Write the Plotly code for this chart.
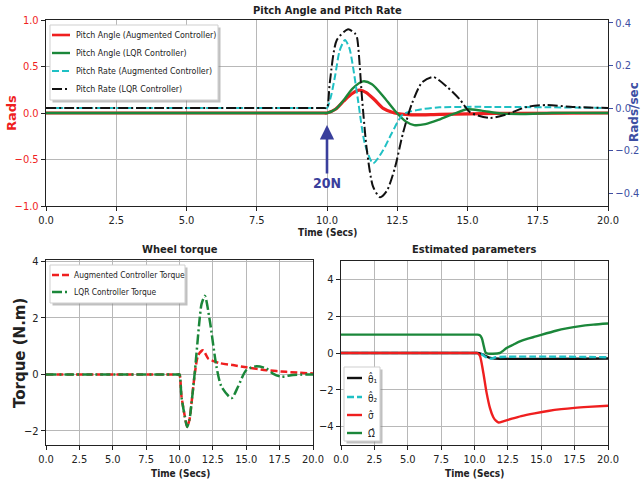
import plotly.graph_objects as go

# ---------------- data ----------------
# Top: pitch angle (rad, left axis)
t_pa_aug = [0, 9.9, 10.0, 10.3, 10.6, 10.9, 11.15, 11.4, 11.7, 12.0, 12.4, 13.0, 14.0, 16.0, 20]
v_pa_aug = [0, 0, 0, 0.04, 0.13, 0.21, 0.245, 0.22, 0.14, 0.05, 0.0, -0.02, -0.015, -0.005, 0]

t_pa_lqr = [0, 9.9, 10.0, 10.3, 10.6, 10.9, 11.28, 11.6, 12.0, 12.4, 12.8, 13.1, 13.5, 14.0, 14.5, 15.0, 15.5, 16.2, 17, 18, 20]
v_pa_lqr = [0, 0, 0, 0.04, 0.14, 0.26, 0.34, 0.31, 0.18, 0.03, -0.09, -0.13, -0.12, -0.07, -0.01, 0.04, 0.025, -0.005, -0.01, 0, 0]

# Top: pitch rate (rad/s, right axis)
t_pr_aug = [0, 9.9, 10.0, 10.15, 10.3, 10.45, 10.64, 10.8, 10.93, 11.1, 11.35, 11.64, 11.99, 12.3, 12.7, 13.2, 14.0, 20]
v_pr_aug = [0, 0, 0, 0.06, 0.16, 0.27, 0.32, 0.28, 0.19, 0.04, -0.17, -0.26, -0.2, -0.12, -0.03, -0.01, 0.003, 0]

t_pr_lqr = [0, 9.9, 10.0, 10.1, 10.35, 10.75, 11.0, 11.07, 11.25, 11.42, 11.64, 11.89, 12.13, 12.42, 12.7, 13.02, 13.38, 13.78,
            14.27, 14.73, 15.09, 15.8, 16.4, 17.1, 17.83, 18.75, 20]
v_pr_lqr = [0, 0, 0, 0.12, 0.32, 0.37, 0.35, 0.33, 0.04, -0.2, -0.37, -0.42, -0.39, -0.28, -0.12, 0.02, 0.12, 0.146,
            0.1, 0.04, -0.02, -0.047, -0.03, 0.005, 0.014, 0.005, 0]

# Bottom-left: wheel torque (N.m)
t_tq_aug = [0, 9.9, 10.0, 10.15, 10.4, 10.57, 10.75, 10.9, 11.15, 11.4, 11.77, 12.15, 12.5, 13.0, 14.0, 15.0, 16.5, 18.0, 20]
v_tq_aug = [0, 0, 0, -0.78, -1.49, -1.86, -1.6, -1.02, 0.04, 0.68, 0.85, 0.56, 0.48, 0.4, 0.33, 0.25, 0.15, 0.09, 0.03]

t_tq_lqr = [0, 9.9, 10.0, 10.15, 10.4, 10.57, 10.75, 10.9, 11.15, 11.52, 11.65, 11.9, 12.27, 12.77, 13.14, 13.9, 14.39,
            15.0, 15.76, 16.5, 17.0, 17.6, 18.5, 20]
v_tq_lqr = [0, 0, 0, -0.8, -1.5, -1.86, -1.6, -1.02, 0.1, 2.02, 2.49, 2.78, 1.9, 0.27, -0.43, -0.84, -0.43,
            0.15, 0.29, 0.21, 0.03, -0.08, -0.02, 0.0]

# Bottom-right: estimated parameters
t_th1 = [0, 10.1, 10.2, 10.5, 10.8, 11.1, 11.5, 20]
v_th1 = [0, 0, 0, -0.05, -0.15, -0.25, -0.3, -0.3]

t_th2 = [0, 10.1, 10.2, 10.5, 10.8, 11.1, 11.3, 11.6, 20]
v_th2 = [0, 0, 0, -0.05, -0.2, -0.3, -0.3, -0.23, -0.23]

t_sig = [0, 10.1, 10.2, 10.4, 10.66, 10.9, 11.16, 11.4, 11.6, 11.8, 12.2, 12.8, 13.5, 14.5, 15.5, 16.5, 17.5, 18.5, 20]
v_sig = [0, 0, 0, -0.15, -1.07, -2.14, -3.0, -3.48, -3.68, -3.78, -3.7, -3.57, -3.43, -3.28, -3.15, -3.05, -2.98, -2.93, -2.87]

t_omg = [0, 10.1, 10.2, 10.4, 10.55, 10.7, 10.86, 11.9, 12.1, 12.4, 12.9, 13.4, 14.0, 14.6, 16.1, 17.0, 17.8, 18.9, 20]
v_omg = [1, 1, 1, 0.97, 0.8, 0.36, 0.0, 0.0, 0.1, 0.27, 0.45, 0.63, 0.78, 0.9, 1.21, 1.35, 1.45, 1.54, 1.6]

x_ticks = [0, 2.5, 5, 7.5, 10, 12.5, 15, 17.5, 20]

# ---------------- styling ----------------
W, H = 641, 485
FONT = "DejaVu Sans Condensed, Liberation Sans Narrow, Liberation Sans, sans-serif"
WIDE = "DejaVu Sans, Verdana, sans-serif"
RED = "#ef1f1f"
GREEN = "#1b873a"
CYAN = "#1fc0c4"
BLACK = "#111111"
BLUE = "#3d4fa3"
GRID = "#b8b8b8"
DASH = "7px,3px"
DASHDOT = "10px,3px,2px,3px"


def px(x):
    return x / W


def py(y):
    return 1 - y / H


fig = go.Figure()

series = [
    # x, y, name, color, width, dash, xaxis, yaxis
    (t_pa_aug, v_pa_aug, "Pitch Angle (Augmented Controller)", RED, 3.2, "solid", "x", "y"),
    (t_pa_lqr, v_pa_lqr, "Pitch Angle (LQR Controller)", GREEN, 2.4, "solid", "x", "y"),
    (t_pr_aug, v_pr_aug, "Pitch Rate (Augmented Controller)", CYAN, 2.0, DASH, "x", "y2"),
    (t_pr_lqr, v_pr_lqr, "Pitch Rate (LQR Controller)", BLACK, 2.0, DASHDOT, "x", "y2"),
    (t_tq_aug, v_tq_aug, "Augmented Controller Torque", RED, 2.5, DASH, "x2", "y3"),
    (t_tq_lqr, v_tq_lqr, "LQR Controller Torque", GREEN, 2.5, DASHDOT, "x2", "y3"),
    (t_th1, v_th1, "θ̂₁", BLACK, 2.4, "solid", "x3", "y4"),
    (t_th2, v_th2, "θ̂₂", CYAN, 2.4, DASH, "x3", "y4"),
    (t_sig, v_sig, "σ̂", RED, 2.4, "solid", "x3", "y4"),
    (t_omg, v_omg, "Ω̂", GREEN, 2.4, "solid", "x3", "y4"),
]
for xs, ys, name, col, lw, dash, xa, ya in series:
    fig.add_trace(go.Scatter(x=xs, y=ys, name=name, mode="lines", showlegend=False,
                             line=dict(color=col, width=lw, dash=dash, shape="spline", smoothing=0.7),
                             xaxis=xa, yaxis=ya))

axis_common = dict(showline=True, linecolor="#222222", linewidth=1.3, mirror=True, ticks="outside", ticklen=4,
                   tickcolor="#222222", showgrid=True, gridcolor=GRID, gridwidth=1, zeroline=False, automargin=False,
                   tickfont=dict(family=FONT, size=11, color="#222222"))

xcommon = dict(axis_common, range=[0, 20], tickvals=x_ticks, tickformat=".1f")

fig.update_layout(
    width=W, height=H, margin=dict(l=0, r=0, t=0, b=0, autoexpand=False),
    paper_bgcolor="white", plot_bgcolor="white", showlegend=False,
    font=dict(family=FONT, color="#222222"),
    xaxis=dict(xcommon, domain=[px(46), px(608)], anchor="y"),
    yaxis=dict(axis_common, domain=[py(206), py(20)], range=[-1, 1], dtick=0.5, tickformat=".1f", anchor="x",
               tickfont=dict(family=FONT, size=11, color=RED)),
    yaxis2=dict(axis_common, overlaying="y", side="right", anchor="x", range=[-0.461, 0.414], dtick=0.2,
                tickformat=".1f", showgrid=False, mirror=False, tickcolor=BLUE,
                tickfont=dict(family=FONT, size=11, color=BLUE)),
    xaxis2=dict(xcommon, domain=[px(46), px(313)], anchor="y3"),
    yaxis3=dict(axis_common, domain=[py(445), py(260)], range=[-2.5, 4.05], dtick=2, tick0=0, anchor="x2"),
    xaxis3=dict(xcommon, domain=[px(341), px(608)], anchor="y4"),
    yaxis4=dict(axis_common, domain=[py(445), py(261)], range=[-5, 5], dtick=2, tick0=0, anchor="x3"),
)

ann = []
shapes = []


def text(s, x, y, size, color="#222222", family=FONT, angle=0, xanchor="center"):
    ann.append(dict(text=s, x=px(x), y=py(y), xref="paper", yref="paper", showarrow=False,
                    xanchor=xanchor, yanchor="middle", textangle=angle,
                    font=dict(family=family, size=size, color=color)))


# hand-built legends (matplotlib style: short handles, shadow)
def legend_box(x0, y0, x1, y1, rows, hx0, hx1, tx, size):
    shapes.append(dict(type="rect", xref="paper", yref="paper", x0=px(x0 + 2.5), x1=px(x1 + 2.5),
                       y0=py(y1 + 2.5), y1=py(y0 + 2.5), fillcolor="#8c8c8c", opacity=0.55,
                       line=dict(width=0), layer="above"))
    shapes.append(dict(type="rect", xref="paper", yref="paper", x0=px(x0), x1=px(x1), y0=py(y1), y1=py(y0),
                       fillcolor="white", line=dict(color="#cfcfcf", width=1), layer="above"))
    for yy, idx in rows:
        _, _, name, col, lw, dash, _, _ = series[idx]
        shapes.append(dict(type="line", xref="paper", yref="paper", x0=px(hx0), x1=px(hx1), y0=py(yy), y1=py(yy),
                           line=dict(color=col, width=min(lw, 2.6), dash=dash), layer="above"))
        text(name, tx, yy, size, xanchor="left")


legend_box(50, 25, 218, 100, [(35, 0), (53, 1), (71, 2), (89, 3)], 52, 70, 74, 8.8)
legend_box(50, 265, 185, 303, [(275, 4), (292, 5)], 52, 70, 72, 8.4)
legend_box(344, 367, 380, 441, [(378, 6), (397, 7), (415, 8), (433, 9)], 347, 362, 366, 10)

# titles
text("<b>Pitch Angle and Pitch Rate</b>", 327, 10, 11)
text("<b>Wheel torque</b>", 180, 250, 11)
text("<b>Estimated parameters</b>", 474, 250, 11)
# x labels
for cx, cy in [(327, 232), (180, 473), (474, 473)]:
    text("<b>Time (Secs)</b>", cx, cy, 10)
# y labels
text("<b>Rads</b>", 11, 113, 13, color=RED, family=WIDE, angle=-90)
text("<b>Rads/sec</b>", 634, 112, 12, color=BLUE, family=WIDE, angle=-90)
text("<b>Torque (N.m)</b>", 20, 353, 15, family=WIDE, angle=-90)

# 20N arrow
ann.append(dict(text="<b>20N</b>", x=10, y=-0.13, xref="x", yref="y", ax=0, ay=58, axref="pixel", ayref="pixel",
                showarrow=True, arrowhead=2, arrowsize=1.1, arrowwidth=2.6, arrowcolor="#3a3f9c", standoff=0,
                font=dict(family=FONT, size=14, color="#3a3f9c")))
fig.update_layout(annotations=ann, shapes=shapes)

fig.write_html("out.html", config={"displayModeBar": False},
               post_script="document.body.style.margin='0px';document.body.style.overflow='hidden';")
